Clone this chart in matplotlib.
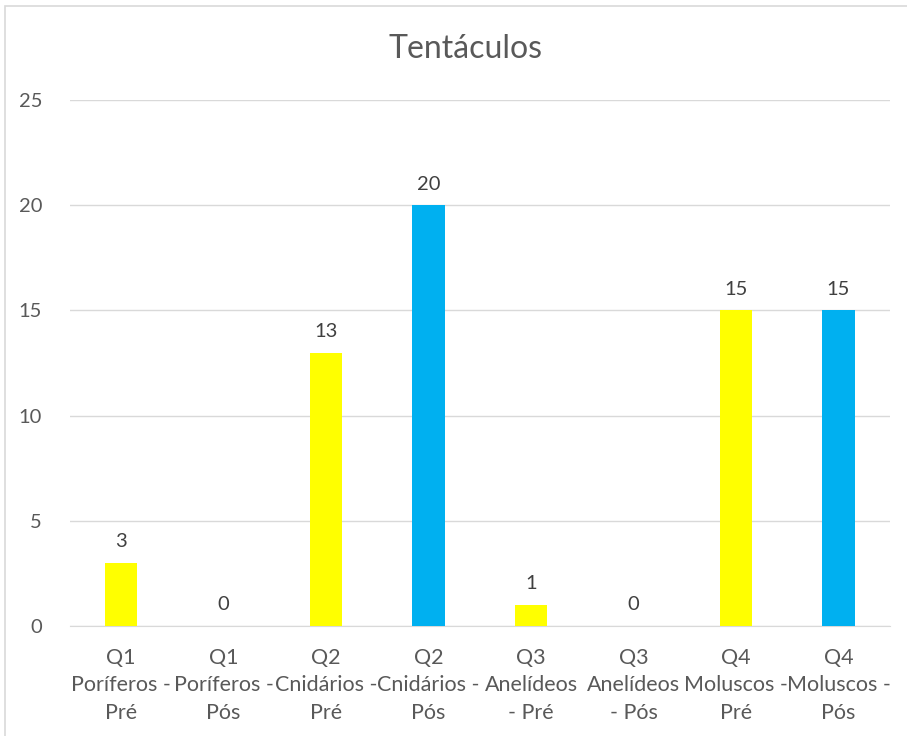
import matplotlib.pyplot as plt
from matplotlib.patches import Rectangle

# dados do gráfico
categorias = ['Q1\nPoríferos -\nPré', 'Q1\nPoríferos -\nPós',
              'Q2\nCnidários -\nPré', 'Q2\nCnidários -\nPós',
              'Q3\nAnelídeos\n- Pré', 'Q3\nAnelídeos\n- Pós',
              'Q4\nMoluscos -\nPré', 'Q4\nMoluscos -\nPós']
valores = [3, 0, 13, 20, 1, 0, 15, 15]
momento = ['Pré', 'Pós', 'Pré', 'Pós', 'Pré', 'Pós', 'Pré', 'Pós']
cores_momento = {'Pré': '#FFFF00', 'Pós': '#00B0F0'}

plt.rcParams['font.family'] = ['Lato', 'DejaVu Sans']
cinza = '#595959'

fig = plt.figure(figsize=(9.07, 7.36), dpi=100)
ax = fig.add_axes([0.077, 0.1495, 0.904, 0.7145])

x = range(len(valores))
cores = [cores_momento[m] for m in momento]
barras = ax.bar(x, valores, width=0.32, color=cores, zorder=3)

for xi, v in zip(x, valores):
    ax.text(xi, v + 0.6, str(v), ha='center', va='bottom', fontsize=14.5, color='#404040')

ax.set_xlim(-0.5, len(valores) - 0.5)
ax.set_ylim(0, 25)
ax.set_yticks([0, 5, 10, 15, 20, 25])
ax.set_xticks(list(x))
ax.set_xticklabels(categorias, fontsize=15.5, color=cinza, linespacing=1.45)
ax.tick_params(axis='y', labelsize=14.5, colors=cinza, length=0, pad=20)
ax.tick_params(axis='x', length=0, pad=16)
ax.grid(axis='y', color='#D9D9D9', linewidth=1, zorder=0)
for s in ['top', 'right', 'left']:
    ax.spines[s].set_visible(False)
ax.spines['bottom'].set_color('#D9D9D9')

fig.text(0.513, 0.933, 'Tentáculos', ha='center', va='center', fontsize=23, color=cinza)

# borda do gráfico
fig.patches.append(Rectangle((5 / 907, -0.01), 1.0, 1.0 - 6 / 736 + 0.01,
                             transform=fig.transFigure, fill=False,
                             edgecolor='#D9D9D9', linewidth=1.2))

fig.savefig('out.png', dpi=100)
